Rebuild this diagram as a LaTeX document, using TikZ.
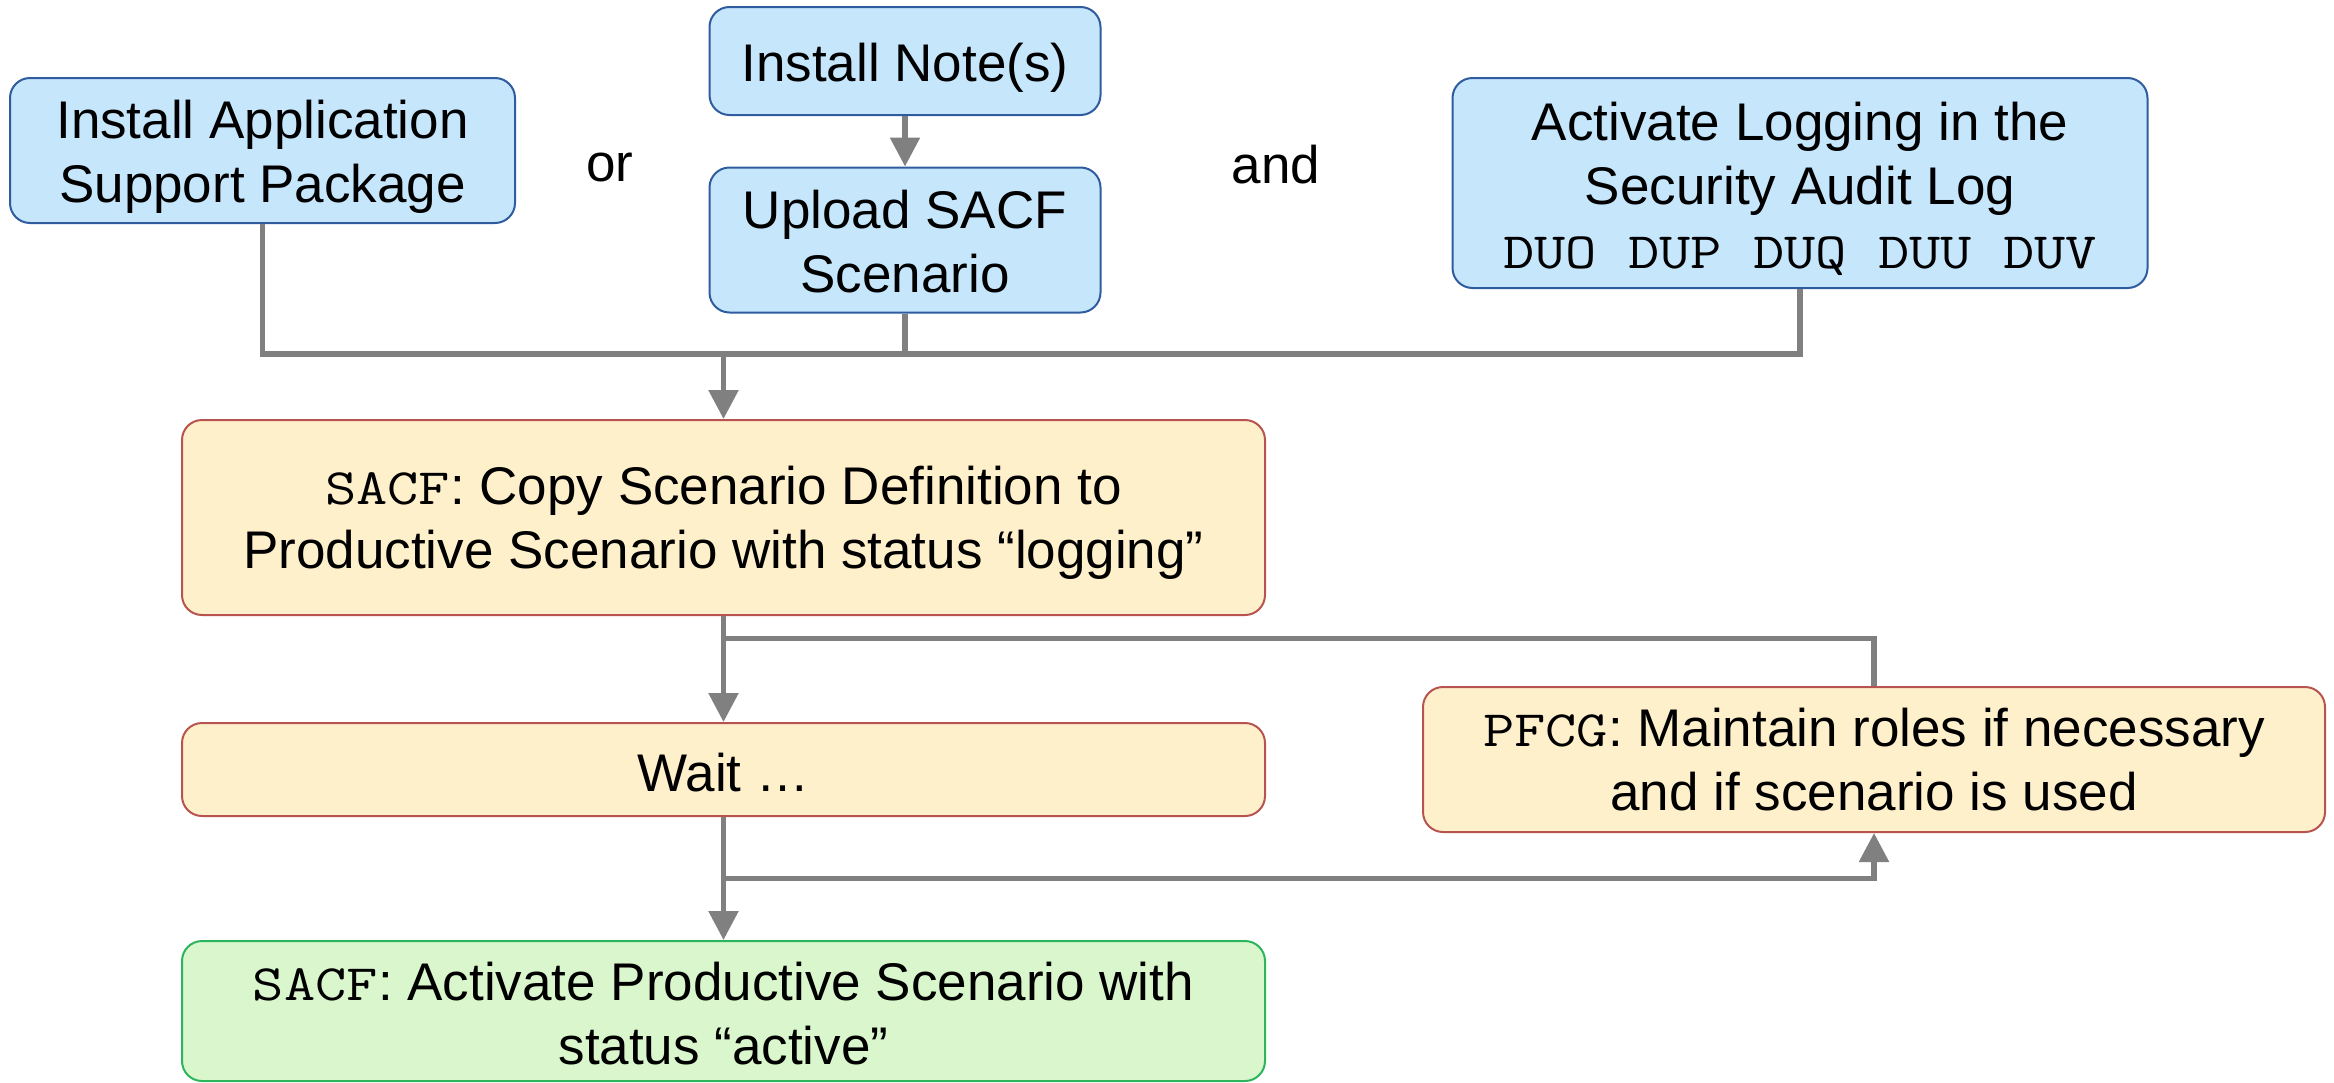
\documentclass[tikz,border=0pt]{standalone}
\usepackage{fontspec}
\setmainfont{Liberation Sans}
\setmonofont{Latin Modern Mono}[FakeStretch=1.19]
\usetikzlibrary{arrows.meta}
\definecolor{bluefill}{HTML}{C6E6FC}
\definecolor{bluedraw}{HTML}{2E5C9E}
\definecolor{yelfill}{HTML}{FFF0CC}
\definecolor{yeldraw}{HTML}{B85450}
\definecolor{grnfill}{HTML}{D9F6CC}
\definecolor{grndraw}{HTML}{2DB55D}
\definecolor{conncol}{HTML}{808080}
\newcommand{\mono}[1]{{\fontsize{51}{64}\ttfamily #1}}
\tikzset{
  box/.style={rounded corners=20pt, line width=2pt, inner sep=0pt},
  bluebox/.style={box, fill=bluefill, draw=bluedraw},
  yelbox/.style={box, fill=yelfill, draw=yeldraw},
  grnbox/.style={box, fill=grnfill, draw=grndraw},
  txt/.style={inner sep=0pt, align=center, font=\fontsize{53}{64}\selectfont},
  plainlabel/.style={inner sep=0pt, font=\fontsize{53}{64}\selectfont},
  conn/.style={draw=conncol, line width=5.5pt},
  arr/.style={conn, -{Triangle[width=29pt,length=29pt]}}
}
\begin{document}
\begin{tikzpicture}[x=1pt,y=-1pt]
\useasboundingbox (0,0) rectangle (2334,1082);
\node[bluebox, minimum width=505pt, minimum height=145pt,
  label={[txt,yshift=-6pt]center:{Install Application\\Support Package}}] (app) at (262.5,150.5) {};
\node[bluebox, minimum width=391pt, minimum height=108pt,
  label={[txt,yshift=-7pt]center:{Install Note(s)}}] (note) at (905,61) {};
\node[bluebox, minimum width=391pt, minimum height=145pt,
  label={[txt,yshift=-2pt]center:{Upload SACF\\Scenario}}] (upload) at (905,240) {};
\node[bluebox, minimum width=695pt, minimum height=210pt,
  label={[txt,yshift=-6pt]center:{Activate Logging in the\\Security Audit Log\\\mono{DUO DUP DUQ DUU DUV}}}] (logact) at (1800,183) {};
\node[plainlabel] (or) at (610,167) {or};
\node[plainlabel] (and) at (1276,165) {and};
\node[yelbox, minimum width=1083pt, minimum height=195pt,
  label={[txt,yshift=-5pt]center:{\mono{SACF}: Copy Scenario Definition to\\Productive Scenario with status “logging”}}] (copy) at (723.5,517.5) {};
\node[yelbox, minimum width=1083pt, minimum height=93pt,
  label={[txt,yshift=-3pt]center:{Wait …}}] (wait) at (723.5,769.5) {};
\node[grnbox, minimum width=1083pt, minimum height=140pt,
  label={[txt,yshift=-3pt]center:{\mono{SACF}: Activate Productive Scenario with\\status “active”}}] (active) at (723.5,1011) {};
\node[yelbox, minimum width=902pt, minimum height=145pt,
  label={[txt]center:{\mono{PFCG}: Maintain roles if necessary\\and if scenario is used}}] (pfcg) at (1874,759.5) {};
\coordinate (j1) at (723.5,354);
\coordinate (j2) at (723.5,638.5);
\coordinate (j3) at (723.5,878.5);
\draw[arr] (note.south) -- (upload.north);
\draw[conn] (app.south) |- (j1);
\draw[conn] (upload.south) |- (j1);
\draw[conn] (logact.south) |- (j1);
\draw[arr] (j1) -- (copy.north);
\draw[arr] (copy.south) -- (wait.north);
\draw[conn] (j2) -| (pfcg.north);
\draw[arr] (wait.south) -- (active.north);
\draw[arr] (j3) -| (pfcg.south);
\end{tikzpicture}
\end{document}
